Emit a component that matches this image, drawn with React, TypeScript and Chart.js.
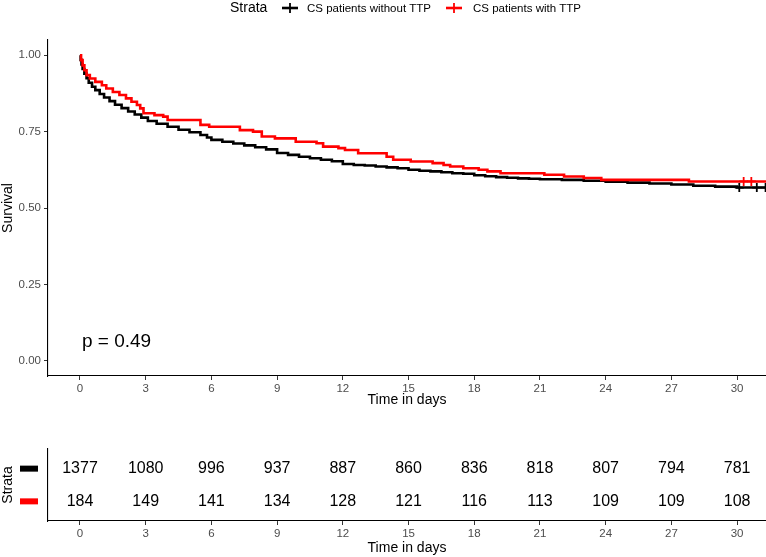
import React, { useEffect, useRef } from "react";
import { Chart, registerables } from "chart.js";
Chart.register(...registerables);

const FONT = "'Liberation Sans', Arial, Helvetica, sans-serif";
const W = 766;
const MAIN_H = 412;
const RISK_H = 145;

const timeBreaks = [0, 3, 6, 9, 12, 15, 18, 21, 24, 27, 30];
const yTicks = [0, 0.25, 0.5, 0.75, 1];
const strataLabels = ["CS patients without TTP", "CS patients with TTP"];
const strataColors = ["#000000", "#FF0000"];
const pValueText = "p = 0.49";

const riskWithoutTTP = [1377, 1080, 996, 937, 887, 860, 836, 818, 807, 794, 781];
const riskWithTTP = [184, 149, 141, 134, 128, 121, 116, 113, 109, 109, 108];

const withoutTimes = [
  0, 0.03, 0.07, 0.12, 0.2, 0.3, 0.4, 0.55, 0.7, 0.9, 1.1, 1.35, 1.6, 1.9, 2.2, 2.5, 2.8, 3.1, 3.5, 4.0,
  4.5, 5.0, 5.5, 5.8, 6.0, 6.5, 7.0, 7.5, 8.0, 8.5, 9.0, 9.5, 10.0, 10.5, 11.0, 11.5, 12.0, 12.5, 13.0,
  13.5, 14.0, 14.5, 15.0, 15.5, 16.0, 16.5, 17.0, 17.5, 18.0, 18.5, 19.0, 19.5, 20.0, 20.5, 21.0, 22.0,
  23.0, 24.0, 25.0, 26.0, 27.0, 28.0, 29.0, 30.0, 31.4,
];
const withoutSurv = [
  1.0, 0.985, 0.97, 0.955, 0.94, 0.925, 0.91, 0.897, 0.886, 0.873, 0.862, 0.85, 0.838, 0.827, 0.816,
  0.806, 0.796, 0.785, 0.776, 0.766, 0.756, 0.748, 0.739, 0.731, 0.723, 0.717, 0.711, 0.705, 0.699,
  0.692, 0.68, 0.674, 0.668, 0.663, 0.658, 0.653, 0.644, 0.641, 0.639, 0.636, 0.633, 0.63, 0.625, 0.622,
  0.62, 0.617, 0.614, 0.612, 0.607, 0.604, 0.601, 0.599, 0.597, 0.596, 0.594, 0.592, 0.589, 0.586,
  0.583, 0.58, 0.577, 0.573, 0.57, 0.567, 0.567,
];

const withTimes = [
  0, 0.05, 0.12, 0.2, 0.3, 0.45, 0.7, 1.0, 1.2, 1.5, 1.8, 2.1, 2.35, 2.6, 2.75, 2.9, 3.4, 3.8, 4.0, 5.5,
  5.9, 7.3, 7.9, 8.3, 8.9, 9.85, 10.8, 11.1, 11.8, 12.1, 12.7, 14.0, 14.3, 15.1, 16.1, 16.6, 16.9, 17.5,
  18.2, 18.6, 19.2, 21.2, 22.1, 23.0, 23.8, 27.8, 31.4,
];
const withSurv = [
  1.0, 0.984, 0.967, 0.951, 0.935, 0.924, 0.913, 0.902, 0.891, 0.88, 0.87, 0.859, 0.848, 0.837, 0.826,
  0.81, 0.804, 0.799, 0.788, 0.772, 0.766, 0.755, 0.75, 0.734, 0.728, 0.717, 0.712, 0.701, 0.696, 0.69,
  0.679, 0.668, 0.658, 0.652, 0.647, 0.641, 0.636, 0.63, 0.625, 0.62, 0.614, 0.609, 0.603, 0.598, 0.592,
  0.587, 0.587,
];

const withoutCensorTimes = [30.1, 30.9, 31.3];
const withoutCensorSurv = [0.567, 0.567, 0.567];
const withCensorTimes = [30.3, 30.65];
const withCensorSurv = [0.587, 0.587];

const X_MIN = -1.46;
const X_MAX = 31.32;

const toPts = (xs: number[], ys: number[]) => xs.map((x, i) => ({ x, y: ys[i] }));

function xScaleOpts(height: number, titlePadBottom: number) {
  return {
    type: "linear" as const,
    min: X_MIN,
    max: X_MAX,
    afterBuildTicks: (s: any) => {
      s.ticks = timeBreaks.map((v) => ({ value: v }));
    },
    afterFit: (s: any) => {
      s.height = height;
      s.paddingLeft = 0;
      s.paddingRight = 0;
    },
    ticks: {
      color: "#4D4D4D",
      font: { size: 11.5, family: FONT },
      padding: 2,
      maxRotation: 0,
      autoSkip: false,
    },
    grid: { drawOnChartArea: false, drawTicks: true, tickLength: 4, color: "#333333", lineWidth: 1 },
    border: { display: true, color: "#000000", width: 1.1 },
    title: {
      display: true,
      text: "Time in days",
      color: "#000000",
      font: { size: 14, family: FONT },
      padding: { top: 0, bottom: titlePadBottom },
    },
  };
}

export default function App() {
  const mainRef = useRef<HTMLCanvasElement>(null);
  const riskRef = useRef<HTMLCanvasElement>(null);

  useEffect(() => {
    Chart.defaults.font.family = FONT;

    const overlayPlugin = {
      id: "kmOverlay",
      afterDatasetsDraw(chart: any) {
        const ctx = chart.ctx;
        const xs = chart.scales.x;
        const ys = chart.scales.y;
        ctx.save();
        ctx.fillStyle = "#000";
        ctx.font = `19px ${FONT}`;
        ctx.textAlign = "left";
        ctx.textBaseline = "middle";
        ctx.fillText(pValueText, xs.getPixelForValue(0.09), ys.getPixelForValue(0.061));
        ctx.restore();
      },
      afterDraw(chart: any) {
        const ctx = chart.ctx;
        ctx.save();
        const cy = 8;
        ctx.fillStyle = "#000";
        ctx.textBaseline = "middle";
        ctx.textAlign = "left";
        ctx.font = `14px ${FONT}`;
        ctx.fillText("Strata", 230, cy);
        const glyphs = [
          { x: 290, tx: 307 },
          { x: 454, tx: 473 },
        ];
        glyphs.forEach((g, i) => {
          ctx.strokeStyle = strataColors[i];
          ctx.lineWidth = 2.6;
          ctx.beginPath();
          ctx.moveTo(g.x - 8, cy);
          ctx.lineTo(g.x + 8, cy);
          ctx.stroke();
          ctx.lineWidth = 1.8;
          ctx.beginPath();
          ctx.moveTo(g.x, cy - 5);
          ctx.lineTo(g.x, cy + 5);
          ctx.stroke();
          ctx.fillStyle = "#000";
          ctx.font = `11.5px ${FONT}`;
          ctx.fillText(strataLabels[i], g.tx, cy + 0.5);
        });
        ctx.restore();
      },
    };

    const main = new Chart(mainRef.current!, {
      type: "line",
      data: {
        datasets: [
          {
            label: strataLabels[1] + " censored",
            data: toPts(withCensorTimes, withCensorSurv),
            showLine: false,
            pointStyle: "cross",
            pointRadius: 4.5,
            pointBorderWidth: 1.8,
            borderColor: strataColors[1],
            backgroundColor: strataColors[1],
            order: -2,
          } as any,
          {
            label: strataLabels[0] + " censored",
            data: toPts(withoutCensorTimes, withoutCensorSurv),
            showLine: false,
            pointStyle: "cross",
            pointRadius: 4.5,
            pointBorderWidth: 1.8,
            borderColor: strataColors[0],
            backgroundColor: strataColors[0],
            order: -1,
          },
          {
            label: strataLabels[1],
            data: toPts(withTimes, withSurv),
            stepped: true,
            borderColor: strataColors[1],
            borderWidth: 2.6,
            pointRadius: 0,
            fill: false,
            order: 0,
          },
          {
            label: strataLabels[0],
            data: toPts(withoutTimes, withoutSurv),
            stepped: true,
            borderColor: strataColors[0],
            borderWidth: 2.6,
            pointRadius: 0,
            fill: false,
            order: 1,
          },
        ],
      },
      options: {
        animation: false,
        responsive: false,
        maintainAspectRatio: false,
        devicePixelRatio: window.devicePixelRatio || 1,
        layout: { autoPadding: false, padding: { top: 40, left: 0, right: 0, bottom: 0 } },
        plugins: { legend: { display: false }, tooltip: { enabled: false } },
        scales: {
          x: xScaleOpts(MAIN_H - 376, 3) as any,
          y: {
            type: "linear",
            min: -0.05,
            max: 1.05,
            afterBuildTicks: (s: any) => {
              s.ticks = yTicks.map((v) => ({ value: v }));
            },
            afterFit: (s: any) => {
              s.width = 48;
              s.paddingTop = 0;
              s.paddingBottom = 0;
            },
            ticks: {
              color: "#4D4D4D",
              font: { size: 11.5, family: FONT },
              padding: 3,
              callback: (v: any) => Number(v).toFixed(2),
            },
            grid: { drawOnChartArea: false, drawTicks: true, tickLength: 4, color: "#333333", lineWidth: 1 },
            border: { display: true, color: "#000000", width: 1.1 },
            title: {
              display: true,
              text: "Survival",
              color: "#000000",
              font: { size: 14, family: FONT },
              padding: { top: 0, bottom: 0 },
            },
          },
        },
      },
      plugins: [overlayPlugin],
    });

    const riskPlugin = {
      id: "riskText",
      afterDatasetsDraw(chart: any) {
        const ctx = chart.ctx;
        const ys = chart.scales.y;
        ctx.save();
        ctx.font = `16px ${FONT}`;
        ctx.fillStyle = "#000";
        ctx.textAlign = "center";
        ctx.textBaseline = "middle";
        chart.data.datasets.forEach((ds: any, di: number) => {
          const meta = chart.getDatasetMeta(di);
          meta.data.forEach((el: any, i: number) => {
            ctx.fillText(String(ds.data[i].v), el.x, el.y);
          });
          const ry = ys.getPixelForValue(ds.data[0].y);
          ctx.fillStyle = strataColors[di];
          ctx.fillRect(20, ry - 3, 18, 6);
          ctx.fillStyle = "#000";
        });
        ctx.restore();
      },
    };

    const risk = new Chart(riskRef.current!, {
      type: "scatter",
      data: {
        datasets: [
          {
            label: strataLabels[0],
            data: timeBreaks.map((t, i) => ({ x: t, y: 2, v: riskWithoutTTP[i] })) as any,
            pointRadius: 0,
          },
          {
            label: strataLabels[1],
            data: timeBreaks.map((t, i) => ({ x: t, y: 1, v: riskWithTTP[i] })) as any,
            pointRadius: 0,
          },
        ],
      },
      options: {
        animation: false,
        responsive: false,
        maintainAspectRatio: false,
        devicePixelRatio: window.devicePixelRatio || 1,
        layout: { autoPadding: false, padding: { top: 37, left: 0, right: 0, bottom: 0 } },
        plugins: { legend: { display: false }, tooltip: { enabled: false } },
        scales: {
          x: xScaleOpts(RISK_H - 109, 0) as any,
          y: {
            type: "linear",
            min: 0.4,
            max: 2.6,
            afterFit: (s: any) => {
              s.width = 48;
              s.paddingTop = 0;
              s.paddingBottom = 0;
            },
            ticks: { display: false },
            grid: { display: false },
            border: { display: true, color: "#000000", width: 1.1 },
            title: {
              display: true,
              text: "Strata",
              color: "#000000",
              font: { size: 14, family: FONT },
              padding: { top: 0, bottom: 0 },
            },
          },
        },
      },
      plugins: [riskPlugin],
    });

    return () => {
      main.destroy();
      risk.destroy();
    };
  }, []);

  return (
    <div style={{ position: "fixed", left: 0, top: 0, width: W, height: 557, background: "#ffffff" }}>
      <canvas
        ref={mainRef}
        width={W}
        height={MAIN_H}
        style={{ position: "absolute", left: 0, top: 0, width: W, height: MAIN_H }}
      />
      <canvas
        ref={riskRef}
        width={W}
        height={RISK_H}
        style={{ position: "absolute", left: 0, top: MAIN_H, width: W, height: RISK_H }}
      />
    </div>
  );
}
